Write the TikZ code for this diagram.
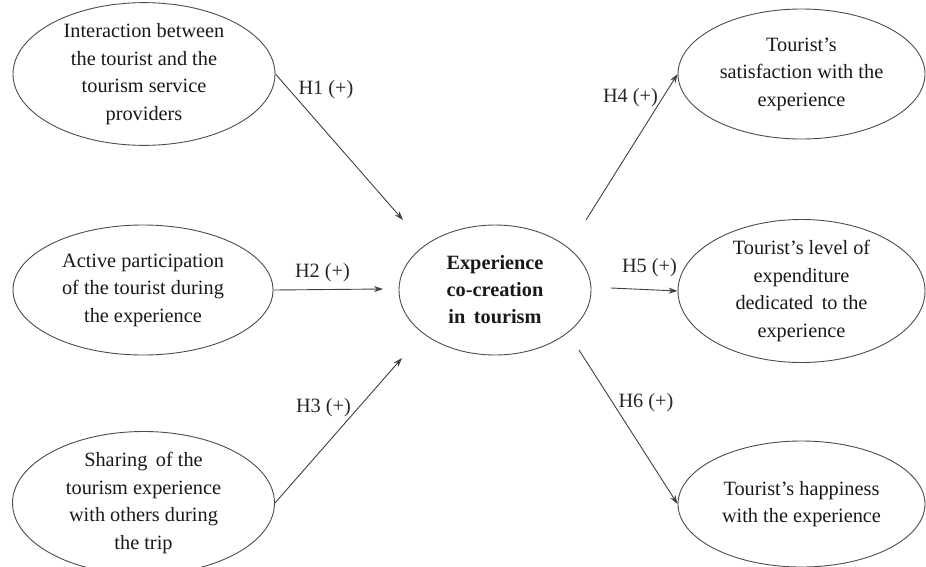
\documentclass[tikz,border=0pt]{standalone}
\usepackage{fontspec}
\setmainfont{Liberation Serif}
\usetikzlibrary{shapes.geometric,arrows.meta}
\begin{document}
\begin{tikzpicture}[x=1pt,y=-1pt,
  bub/.style={ellipse,draw=black!70,line width=0.9pt,inner sep=0pt,align=center,
    font=\fontsize{20.3}{27.5}\selectfont,text=black!90},
  arr/.style={draw=black!75,line width=0.9pt,-{Stealth[length=9pt,width=6pt]}},
  lab/.style={font=\fontsize{20.3}{23}\selectfont,text=black!85,inner sep=0pt}]
\useasboundingbox (0,0) rectangle (926,566);
\node[bub,minimum width=262pt,minimum height=130pt] (tl) at (144,74)
  {Interaction between\\the tourist and the\\tourism service\\providers};
\node[bub,minimum width=260pt,minimum height=130pt] (ml) at (143,290)
  {Active participation\\of the tourist during\\the experience};
\node[bub,minimum width=262pt,minimum height=128pt] (bl) at (143.5,503)
  {Sharing\, of the\\tourism experience\\with others during\\the trip};
\node[bub,minimum width=192pt,minimum height=130pt,font=\bfseries\fontsize{20.3}{27}\selectfont] (c) at (495,290)
  {Experience\\co-creation\\in\, tourism};
\node[bub,minimum width=247pt,minimum height=130pt] (tr) at (801.5,74)
  {Tourist's\\satisfaction with the\\experience};
\node[bub,minimum width=247pt,minimum height=128pt] (mr) at (801.5,291)
  {Tourist's level of\\expenditure\\dedicated\, to the\\experience};
\node[bub,minimum width=247pt,minimum height=126pt] (br) at (801.5,504)
  {Tourist's happiness\\with the experience};
\coordinate (e1) at (403,220);
\coordinate (e2) at (383,289);
\coordinate (e3) at (402,358);
\coordinate (s4) at (586,220);
\coordinate (s5) at (611,288);
\coordinate (s6) at (579,350);
\draw[arr] (tl.east) -- (e1);
\draw[arr] (ml.east) -- (e2);
\draw[arr] (bl.east) -- (e3);
\draw[arr] (s4) -- (tr.west);
\draw[arr] (s5) -- (mr.west);
\draw[arr] (s6) -- (br.west);
\node[lab] (h1) at (326,90) {H1 (+)};
\node[lab] (h2) at (322.5,273) {H2 (+)};
\node[lab] (h3) at (323.5,408) {H3 (+)};
\node[lab] (h4) at (630.5,98) {H4 (+)};
\node[lab] (h5) at (649.5,268) {H5 (+)};
\node[lab] (h6) at (646,403) {H6 (+)};
\end{tikzpicture}
\end{document}
